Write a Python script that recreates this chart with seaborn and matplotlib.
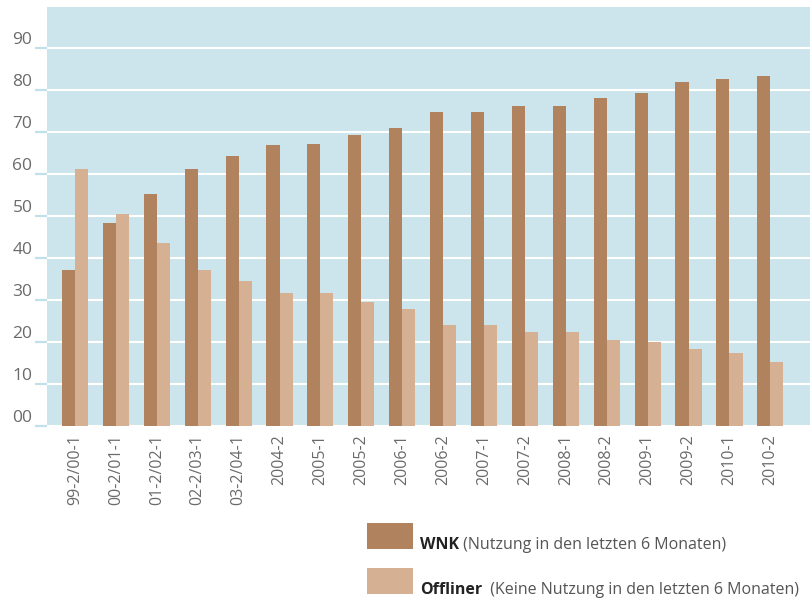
import pandas as pd
import numpy as np
import matplotlib
matplotlib.use('Agg')
import matplotlib.pyplot as plt
from matplotlib.patches import Rectangle
import seaborn as sns

# values
periods = ['99-2/00-1', '00-2/01-1', '01-2/02-1', '02-2/03-1', '03-2/04-1',
           '2004-2', '2005-1', '2005-2', '2006-1', '2006-2', '2007-1', '2007-2',
           '2008-1', '2008-2', '2009-1', '2009-2', '2010-1', '2010-2']
wnk = [37.1, 48.3, 55.2, 61.3, 64.3, 66.9, 67.1, 69.3, 71.0, 74.8, 74.8, 76.2,
       76.2, 78.1, 79.3, 81.9, 82.6, 83.3]
offliner = [61.3, 50.5, 43.6, 37.1, 34.5, 31.7, 31.7, 29.5, 27.9, 24.0, 24.0, 22.4,
            22.4, 20.5, 20.0, 18.3, 17.4, 15.2]
ytick_vals = [0, 10, 20, 30, 40, 50, 60, 70, 80, 90]
ytick_labels = ['00', '10', '20', '30', '40', '50', '60', '70', '80', '90']

col_wnk = '#b0825e'
col_off = '#d5b093'
bg = '#cce4eb'
grey = '#6a6a6a'

df = pd.DataFrame({
    'period': periods * 2,
    'value': wnk + offliner,
    'series': ['WNK'] * len(periods) + ['Offliner'] * len(periods),
})

sns.set_style('white')
plt.rcParams['font.family'] = ['Open Sans', 'DejaVu Sans']

fig = plt.figure(figsize=(8.1, 5.99), dpi=100)
ax = fig.add_axes([0.058, 0.287, 0.942, 0.701])
ax.set_facecolor(bg)

sns.barplot(data=df, x='period', y='value', hue='series', order=periods,
            hue_order=['WNK', 'Offliner'], palette=[col_wnk, col_off],
            width=0.64, saturation=1, legend=False, linewidth=0, ax=ax)

ax.set_xlim(-0.685, 17.97)
ax.set_ylim(-0.2, 99.8)
ax.set_axisbelow(True)
ax.yaxis.grid(True, color='white', linewidth=1.5)
ax.xaxis.grid(False)
for s in ax.spines.values():
    s.set_visible(False)

ax.set_yticks(ytick_vals)
ax.set_yticklabels(ytick_labels)
for lab in ax.get_yticklabels():
    lab.set_verticalalignment('bottom')
ax.tick_params(axis='y', direction='out', length=8.5, width=1.6, color='#c2e0ea',
               pad=2, labelsize=12.5, labelcolor=grey, left=True)
ax.tick_params(axis='x', length=0, pad=5, labelsize=11.5, labelcolor=grey)
plt.setp(ax.get_xticklabels(), rotation=90)
ax.set_xlabel('')
ax.set_ylabel('')

# legend at the bottom right
W, H = 810, 599
renderer = fig.canvas.get_renderer()
items = [(col_wnk, 'WNK', ' (Nutzung in den letzten 6 Monaten)', 523),
         (col_off, 'Offliner', '  (Keine Nutzung in den letzten 6 Monaten)', 568)]
for color, bold, rest, ytop in items:
    fig.patches.append(Rectangle((367 / W, 1 - (ytop + 26) / H), 46 / W, 26 / H,
                                 transform=fig.transFigure, facecolor=color,
                                 edgecolor='none'))
    t = fig.text(420 / W, 1 - (ytop + 26) / H, bold, fontsize=11.5,
                 fontweight='bold', color='#222222', va='baseline')
    bb = t.get_window_extent(renderer=renderer)
    fig.text(bb.x1 / fig.bbox.width, 1 - (ytop + 26) / H, rest, fontsize=11.5,
             color='#555555', va='baseline')

fig.savefig('out.png', dpi=100)
